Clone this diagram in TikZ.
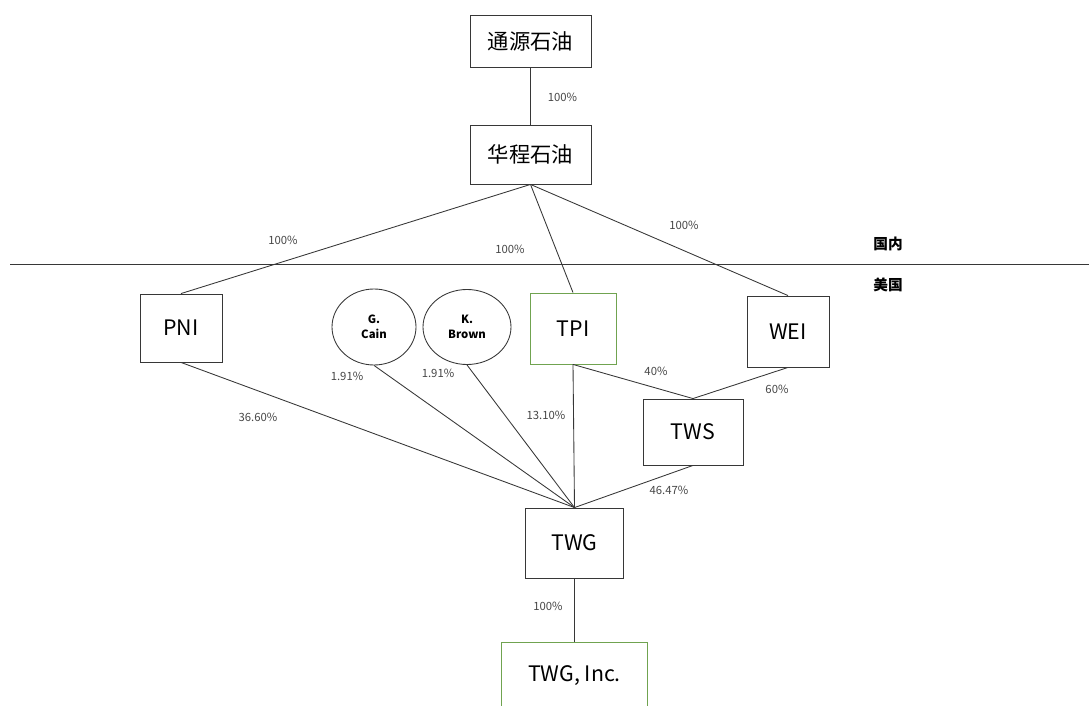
\documentclass[tikz,border=0pt]{standalone}
\usepackage{xcolor}
\usepackage{fontspec}
\setmainfont{Noto Sans CJK SC}
\usepackage{tikz}
\usetikzlibrary{shapes.geometric}

\definecolor{boxgreen}{RGB}{112,163,80}
\definecolor{linegray}{RGB}{55,55,55}
\definecolor{pctgray}{RGB}{70,70,70}

\begin{document}
\begin{tikzpicture}[x=0.75pt,y=0.75pt,yscale=-1,xscale=1,
  firm/.style={draw=linegray, line width=0.65pt, inner sep=0pt, font=\fontsize{16pt}{18pt}\selectfont},
  person/.style={draw=linegray, line width=0.65pt, ellipse, inner sep=0pt, align=center,
    font=\bfseries\fontsize{8.5pt}{11pt}\selectfont},
  link/.style={draw=linegray, line width=0.65pt},
  pct/.style={inner sep=0.75pt, text=pctgray, font=\fontsize{8.5pt}{10pt}\selectfont},
  area/.style={inner sep=0.75pt, font=\bfseries\fontsize{11pt}{13pt}\selectfont}]
\useasboundingbox (0,0) rectangle (1089,706);

%Shape: Rectangle [tongyuan]
\node [firm, minimum width=90.75pt, minimum height=39pt] (tongyuan) at (530.5,41) {通源石油};
%Shape: Rectangle [huacheng]
\node [firm, minimum width=90.75pt, minimum height=44.25pt] (huacheng) at (530.5,154.5) {华程石油};
%Shape: Rectangle [pni]
\node [firm, minimum width=61.5pt, minimum height=51pt] (pni) at (181,328) {PNI};
%Shape: Ellipse [cain]
\node [person, minimum width=63pt, minimum height=57pt] (cain) at (374,327) {G.\\Cain};
%Shape: Ellipse [brown]
\node [person, minimum width=66pt, minimum height=56.25pt] (brown) at (467,327) {K.\\Brown};
%Shape: Rectangle [tpi]
\node [firm, draw=boxgreen, minimum width=64.5pt, minimum height=53.25pt] (tpi) at (573,328.5) {TPI};
%Shape: Rectangle [wei]
\node [firm, minimum width=61.5pt, minimum height=53.25pt] (wei) at (788,331.5) {WEI};
%Shape: Rectangle [tws]
\node [firm, minimum width=75pt, minimum height=49.5pt] (tws) at (693,432) {TWS};
%Shape: Rectangle [twg]
\node [firm, minimum width=73.5pt, minimum height=52.5pt] (twg) at (574.5,543) {TWG};
%Shape: Rectangle [twginc]
\node [firm, draw=boxgreen, minimum width=109.5pt, minimum height=51pt] (twginc) at (574.5,676) {TWG, Inc.};

%Straight Lines [border]
\coordinate (borderW) at (10,264);
\coordinate (borderE) at (1089,264);
\draw [link] (borderW) -- (borderE);

%Straight Lines
\draw [link] (tongyuan.south) -- (huacheng.north);
\draw [link] (huacheng.south) -- (pni.north);
\draw [link] (huacheng.south) -- (tpi.north);
\draw [link] (huacheng.south) -- (wei.north);
\draw [link] (pni.south) -- (twg.north);
\draw [link] (cain.south) -- (twg.north);
\draw [link] (brown.south) -- (twg.north);
\draw [link] (tpi.south) -- (twg.north);
\draw [link] (tpi.south) -- (tws.north);
\draw [link] (wei.south) -- (tws.north);
\draw [link] (tws.south) -- (twg.north);
\draw [link] (twg.south) -- (twginc.north);

% Text Node
\node [area] (domestic) at (888,244) {国内};
% Text Node
\node [area] (usa) at (888,285) {美国};

% Text Node
\node [pct] (p1) at (562.5,97) {100\%};
% Text Node
\node [pct] (p2) at (283,240) {100\%};
% Text Node
\node [pct] (p3) at (510,249) {100\%};
% Text Node
\node [pct] (p4) at (684,225) {100\%};
% Text Node
\node [pct] (p5) at (258,417) {36.60\%};
% Text Node
\node [pct] (p6) at (347,376) {1.91\%};
% Text Node
\node [pct] (p7) at (438,373) {1.91\%};
% Text Node
\node [pct] (p8) at (546,415) {13.10\%};
% Text Node
\node [pct] (p9) at (656,371.5) {40\%};
% Text Node
\node [pct] (p10) at (777,389) {60\%};
% Text Node
\node [pct] (p11) at (669,490) {46.47\%};
% Text Node
\node [pct] (p12) at (548,606.5) {100\%};

\end{tikzpicture}
\end{document}
